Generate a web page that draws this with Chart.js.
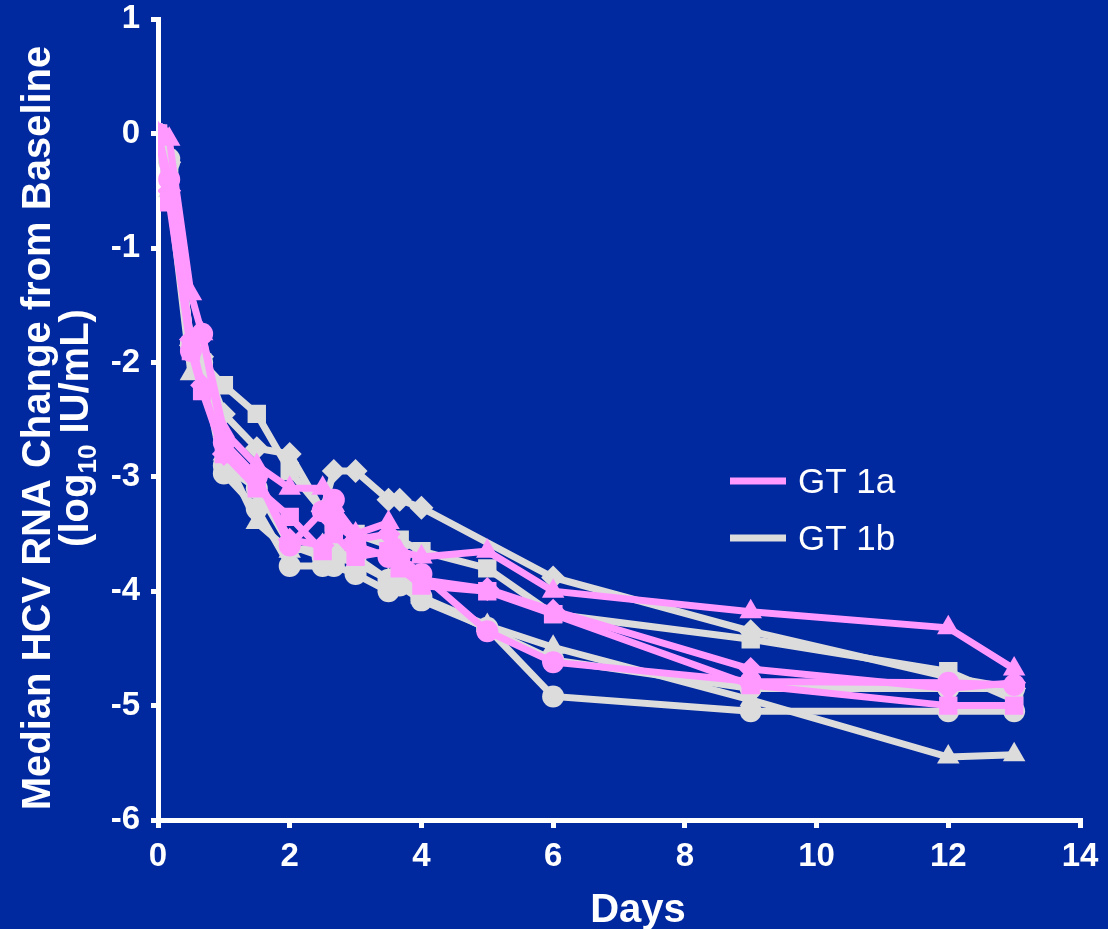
<!DOCTYPE html>
<html><head><meta charset="utf-8">
<script src="https://cdn.jsdelivr.net/npm/chart.js@4"></script>
<style>html,body{margin:0;padding:0;background:#00289F;}#wrap{width:1108px;height:929px;position:relative;}</style>
</head><body><div id="wrap"><canvas id="c"></canvas></div>
<script>
const days = [0, 0.17, 0.5, 0.67, 1, 1.5, 2, 2.5, 2.67, 3, 3.5, 3.67, 4, 5, 6, 9, 12, 13];
// GT 1a (pink)
const gt1aTriangle = [0, -0.05, -1.4, -1.75, -2.6, -2.9, -3.1, -3.1, -3.25, -3.5, -3.4, -3.65, -3.7, -3.65, -4.0, -4.18, -4.32, -4.68];
const gt1aDiamond  = [0, -0.5, -1.8, -2.2, -2.8, -3.0, -3.55, -3.6, -3.4, -3.55, -3.5, -3.75, -3.9, -3.98, -4.17, -4.68, -4.85, -4.8];
const gt1aCircle   = [0, -0.4, -1.9, -1.75, -2.7, -3.0, -3.6, -3.3, -3.2, -3.6, -3.7, -3.7, -3.85, -4.35, -4.62, -4.79, -4.8, -4.82];
const gt1aSquare   = [0, -0.6, -1.9, -2.25, -2.8, -3.1, -3.35, -3.65, -3.5, -3.7, -3.65, -3.8, -3.95, -4.0, -4.2, -4.82, -5.0, -5.0];
// GT 1b (gray)
const gt1bDiamond  = [0, -0.25, -1.85, -1.95, -2.45, -2.75, -2.8, -3.3, -2.95, -2.95, -3.2, -3.2, -3.27, null, -3.88, -4.35, -4.75, -4.85];
const gt1bSquare   = [0, -0.3, -1.85, -2.0, -2.2, -2.45, -2.95, -3.3, -3.4, -3.5, -3.6, -3.55, -3.65, -3.8, -4.2, -4.42, -4.7, -4.95];
const gt1bTriangle = [0, -0.5, -2.1, -2.05, -2.8, -3.4, -3.65, -3.6, -3.7, -3.75, -3.9, -3.95, -4.05, -4.3, -4.49, -4.95, -5.45, -5.43];
const gt1bCircleA  = [0, -0.25, -1.83, -2.05, -2.97, -3.28, -3.78, -3.78, -3.78, -3.85, -4.0, -3.95, -4.08, -4.32, -4.92, -5.05, -5.05, -5.05];
const gt1bCircleB  = [0, -0.22, -1.85, -2.0, -2.9, -3.1, -3.6, -3.7, -3.65, -3.7, -3.9, -3.85, -4.05, -4.33, -4.6, -4.85, -4.85, -4.85];
const xTicks = [0, 2, 4, 6, 8, 10, 12, 14];
const yTicks = [1, 0, -1, -2, -3, -4, -5, -6];
const legendLabels = ['GT 1a', 'GT 1b'];

const PINK = '#FF99FF', GRAY = '#DCDCDC';
const RADII = {rect: 13, rectRot: 12, circle: 11, triangle: 13};
function ds(vals, color, shape) {
  return {
    data: days.map((d, i) => ({x: d, y: vals[i]})).filter(p => p.y !== null),
    borderColor: color, backgroundColor: color, borderWidth: 7,
    pointStyle: shape, pointRadius: RADII[shape],
    pointBorderWidth: 0, tension: 0, fill: false
  };
}
const datasets = [
  ds(gt1aTriangle, PINK, 'triangle'),
  ds(gt1aDiamond, PINK, 'rectRot'),
  ds(gt1aCircle, PINK, 'circle'),
  ds(gt1aSquare, PINK, 'rect'),
  ds(gt1bDiamond, GRAY, 'rectRot'),
  ds(gt1bSquare, GRAY, 'rect'),
  ds(gt1bTriangle, GRAY, 'triangle'),
  ds(gt1bCircleA, GRAY, 'circle'),
  ds(gt1bCircleB, GRAY, 'circle'),
];

const FONT = 'Liberation Sans, Arial, sans-serif';
const overlay = {
  id: 'overlay',
  afterDraw(chart) {
    const ctx = chart.ctx;
    ctx.save();
    ctx.fillStyle = '#FFFFFF';
    // Y title (rotated, two lines)
    ctx.translate(0, 428);
    ctx.rotate(-Math.PI / 2);
    ctx.textBaseline = 'alphabetic';
    ctx.textAlign = 'center';
    ctx.font = 'bold 40px ' + FONT;
    ctx.fillText('Median HCV RNA Change from Baseline', 0, 50);
    const a = '(log', sub = '10', b = ' IU/mL)';
    const wa = ctx.measureText(a).width, wb = ctx.measureText(b).width;
    ctx.font = 'bold 26px ' + FONT;
    const ws = ctx.measureText(sub).width;
    const x0 = -(wa + ws + wb) / 2;
    ctx.textAlign = 'left';
    ctx.font = 'bold 40px ' + FONT;
    ctx.fillText(a, x0, 88);
    ctx.font = 'bold 26px ' + FONT;
    ctx.fillText(sub, x0 + wa, 96);
    ctx.font = 'bold 40px ' + FONT;
    ctx.fillText(b, x0 + wa + ws, 88);
    ctx.restore();
    // X title
    ctx.save();
    ctx.fillStyle = '#FFFFFF';
    ctx.font = 'bold 40px ' + FONT;
    ctx.textAlign = 'center';
    ctx.textBaseline = 'alphabetic';
    ctx.fillText('Days', 638, 922);
    // Legend
    const items = [[legendLabels[0], PINK, 481], [legendLabels[1], GRAY, 538]];
    ctx.textAlign = 'left';
    ctx.font = '35px ' + FONT;
    items.forEach(([t, c, y]) => {
      ctx.strokeStyle = c; ctx.lineWidth = 7;
      ctx.beginPath(); ctx.moveTo(730, y); ctx.lineTo(786, y); ctx.stroke();
      ctx.fillStyle = '#FFFFFF';
      ctx.fillText(t, 798, y + 12);
    });
    ctx.restore();
  }
};

new Chart(document.getElementById('c'), {
  type: 'line',
  data: {datasets},
  plugins: [overlay],
  options: {
    responsive: true, maintainAspectRatio: false, animation: false,
    layout: {padding: {top: 18, right: 28, left: 0, bottom: 0}},
    plugins: {legend: {display: false}, tooltip: {enabled: false}},
    scales: {
      x: {
        type: 'linear', min: 0, max: 14,
        afterBuildTicks: s => { s.ticks = xTicks.map(v => ({value: v})); },
        afterFit: s => { s.height = 109; },
        ticks: {color: '#FFFFFF', font: {family: FONT, size: 33, weight: 'bold'}, padding: 9, maxRotation: 0},
        grid: {drawOnChartArea: false, color: '#FFFFFF', tickColor: '#FFFFFF', tickLength: 8, lineWidth: 5},
        border: {color: '#FFFFFF', width: 5}
      },
      y: {
        type: 'linear', min: -6, max: 1,
        afterBuildTicks: s => { s.ticks = yTicks.map(v => ({value: v})); },
        afterFit: s => { s.width = 158; },
        ticks: {color: '#FFFFFF', font: {family: FONT, size: 33, weight: 'bold', lineHeight: 0.5}, padding: 11},
        grid: {drawOnChartArea: false, color: '#FFFFFF', tickColor: '#FFFFFF', tickLength: 7, lineWidth: 5},
        border: {color: '#FFFFFF', width: 5}
      }
    }
  }
});
</script></body></html>
